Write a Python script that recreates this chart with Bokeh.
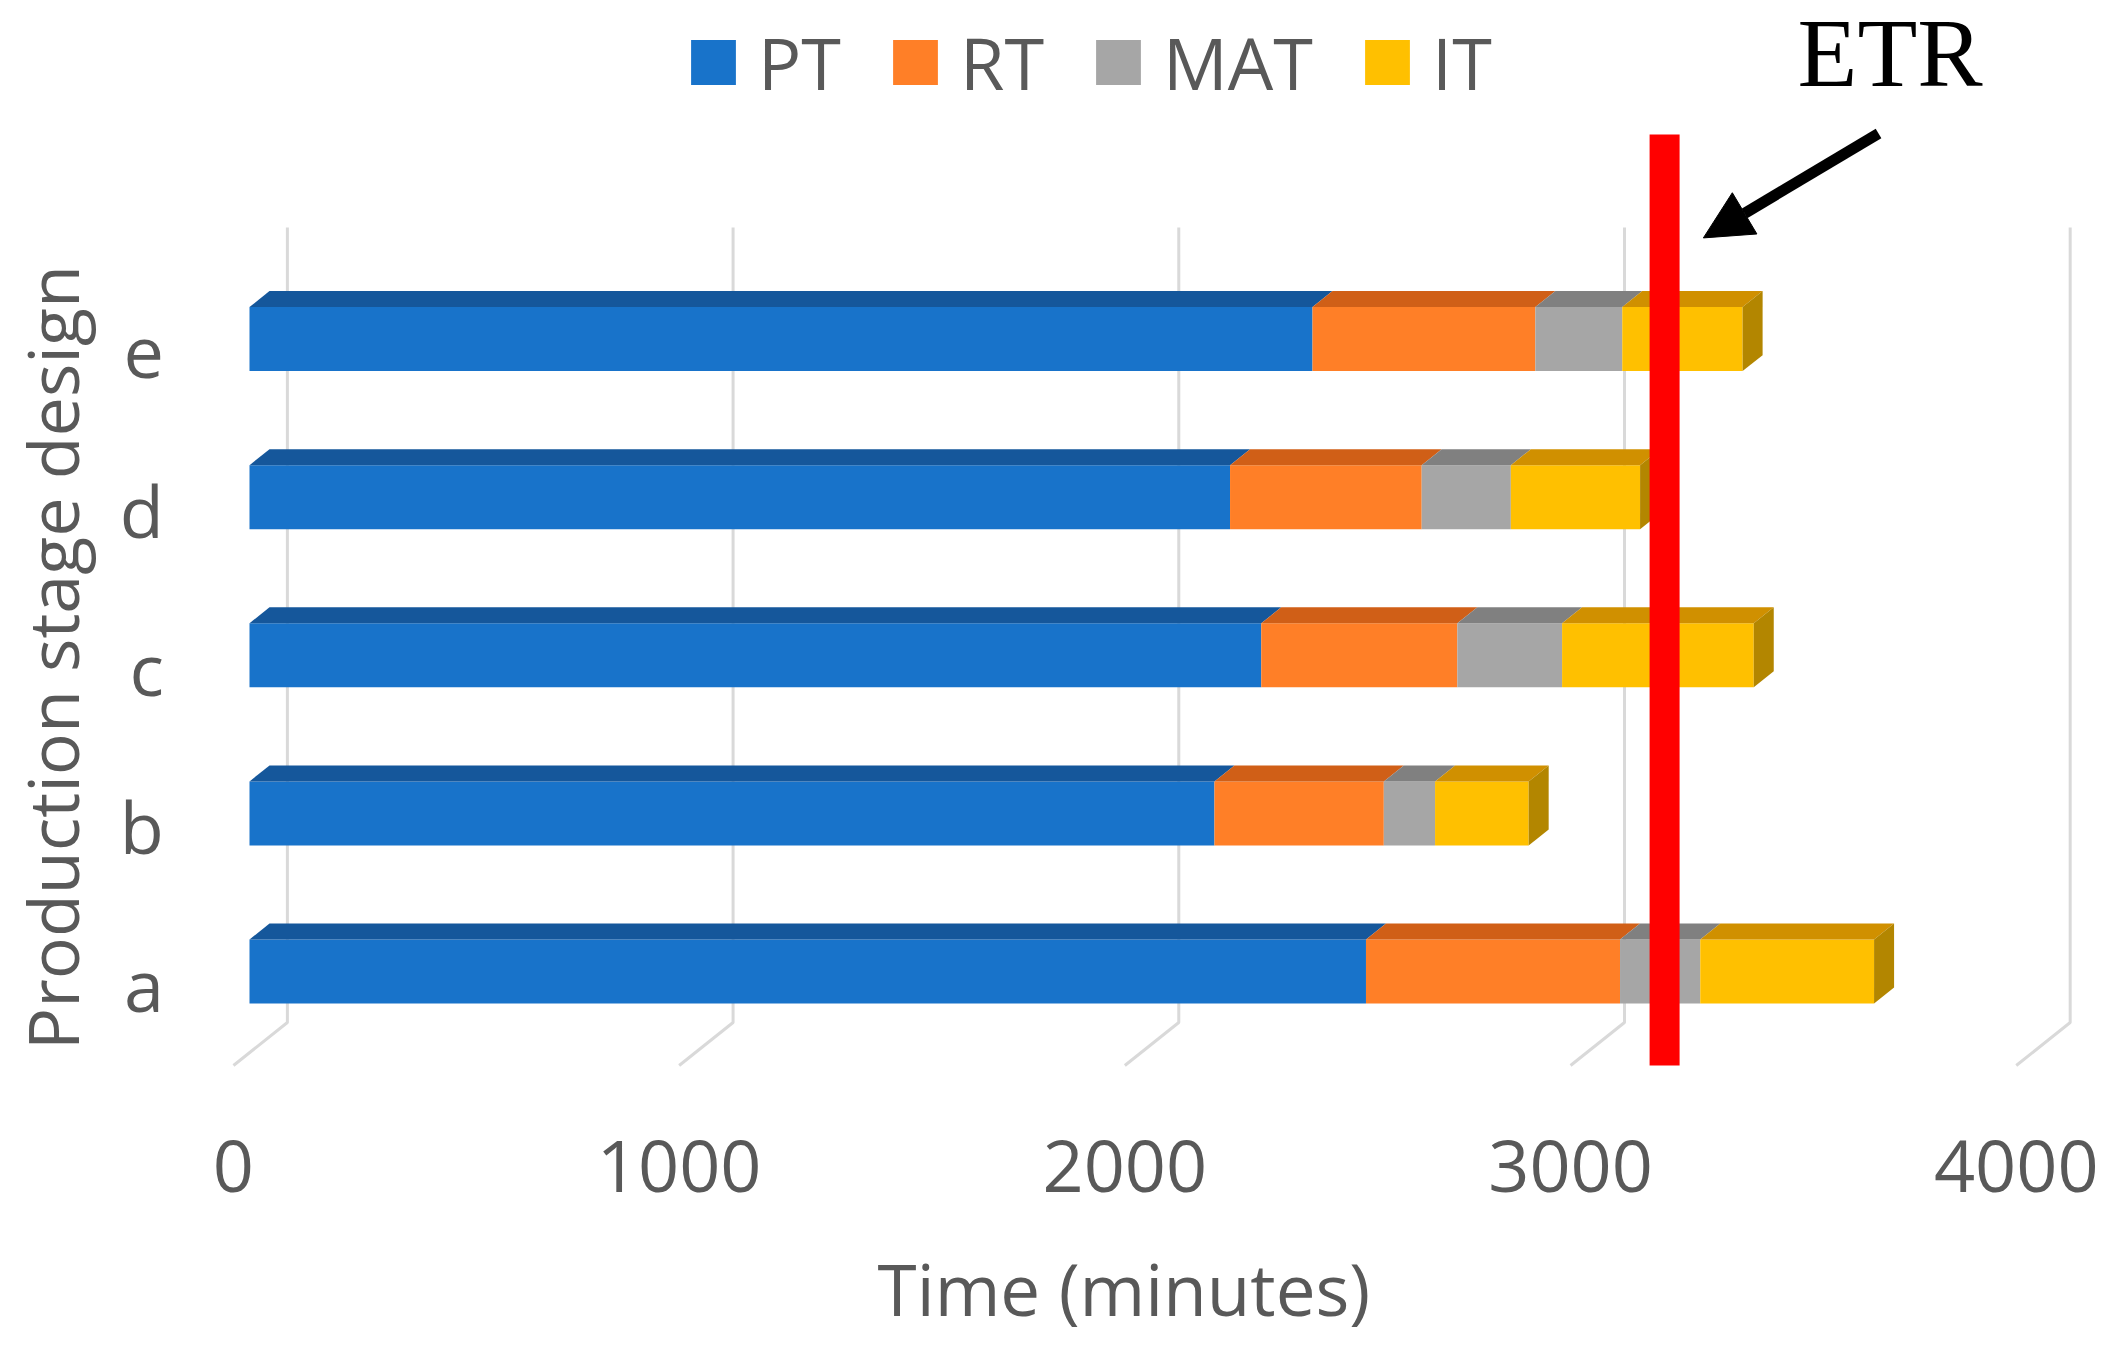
import math
import numpy as np
from bokeh.plotting import figure
from bokeh.models import Range1d, Legend, LegendItem, Label, Arrow, NormalHead
from bokeh.core.properties import value
from bokeh.embed import file_html
from bokeh.resources import INLINE

# ---------------- data ----------------
categories = ["a", "b", "c", "d", "e"]
series_names = ["PT", "RT", "MAT", "IT"]
PT = [2505, 2165, 2270, 2200, 2385]
RT = [570, 380, 440, 430, 500]
MAT = [180, 115, 235, 200, 195]
IT = [390, 210, 430, 290, 270]
x_ticks = [0, 1000, 2000, 3000, 4000]
x_tick_labels = ["0", "1000", "2000", "3000", "4000"]
ETR = 3175
x_title = "Time (minutes)"
y_title = "Production stage design"

# ---------------- style ----------------
front_colors = ["#1873CA", "#FF7F27", "#A6A6A6", "#FFC000"]
top_colors = ["#15579B", "#D05F17", "#808080", "#D09000"]
side_color = "#B38600"
text_color = "#595959"
FONT = "Open Sans"

W, H = 2117, 1340
p = figure(width=W, height=H, output_backend="svg", toolbar_location=None,
           x_range=Range1d(-558.67, 4191.16), y_range=Range1d(-2.3339, 6.1417),
           x_axis_location=None, y_axis_location=None,
           min_border_left=0, min_border_right=0, min_border_top=0,
           min_border_bottom=0)
p.outline_line_color = None
p.background_fill_color = "white"
p.grid.visible = False

# 3-D style gridlines (back wall + floor), one per tick value
wall_dx, floor_dx = 85, 36
grid_top, wall_bottom, floor_y = 4.706, -0.3226, -0.5946
p.multi_line(xs=[[v + wall_dx, v + wall_dx, v - floor_dx] for v in x_ticks],
             ys=[[grid_top, wall_bottom, floor_y] for _ in x_ticks],
             line_color="#D9D9D9", line_width=3)

# x tick labels along the front floor edge
p.text(x=[v - floor_dx for v in x_ticks], y=[-1.229] * len(x_ticks),
       text=x_tick_labels, text_font=value(FONT), text_font_size="72px",
       text_color=text_color, text_align="center", text_baseline="middle")

# category labels
ypos = np.arange(len(categories), dtype=float)
p.text(x=[-192] * len(categories), y=ypos - 0.08, text=categories,
       text_font=value(FONT), text_font_size="72px", text_color=text_color,
       text_align="right", text_baseline="middle")

# stacked bars with 3-D top / side faces
vals = np.array([PT, RT, MAT, IT], dtype=float)
rights = np.cumsum(vals, axis=0)
lefts = rights - vals
bar_h, dx, dy = 0.405, 44.9, 0.101
yt = ypos + bar_h / 2
yb = ypos - bar_h / 2

renderers = []
for k, name in enumerate(series_names):
    r = p.hbar(y=ypos, left=lefts[k], right=rights[k], height=bar_h,
               fill_color=front_colors[k], line_color=None)
    renderers.append(r)
    p.patches(xs=[[l, rr, rr + dx, l + dx] for l, rr in zip(lefts[k], rights[k])],
              ys=[[t, t, t + dy, t + dy] for t in yt],
              fill_color=top_colors[k], line_color=None)
    if k == len(series_names) - 1:
        p.patches(xs=[[rr, rr + dx, rr + dx, rr] for rr in rights[k]],
                  ys=[[b, b + dy, t + dy, t] for b, t in zip(yb, yt)],
                  fill_color=side_color, line_color=None)

# ETR line
p.segment(x0=[ETR], y0=[floor_y], x1=[ETR], y1=[5.294],
          line_color="#FF0000", line_width=30)

# arrow + ETR text
p.add_layout(Arrow(end=NormalHead(size=48, fill_color="black", line_color="black"),
                   x_start=3655, y_start=5.300, x_end=3262, y_end=4.640,
                   line_width=11, line_color="black"))
p.add_layout(Label(x=3681, y=5.81, text="ETR", text_font="Liberation Serif",
                   text_font_size="98px", text_align="center",
                   text_baseline="middle", text_color="black"))

# axis titles
p.add_layout(Label(x=1962, y=-2.002, text=x_title, text_font=FONT,
                   text_font_size="71px", text_align="center",
                   text_baseline="middle", text_color=text_color))
p.add_layout(Label(x=-444, y=1.986, text=y_title, text_font=FONT,
                   text_font_size="70px", text_align="center", angle=math.pi / 2,
                   text_baseline="middle", text_color=text_color))

# legend
legend = Legend(items=[LegendItem(label=n, renderers=[r])
                       for n, r in zip(series_names, renderers)],
                orientation="horizontal", location=(685, 1229),
                glyph_width=56, glyph_height=56, label_standoff=17, spacing=46,
                padding=0, margin=0, border_line_color=None,
                background_fill_alpha=0, label_text_font=FONT,
                label_text_font_size="72px", label_text_color=text_color)
p.add_layout(legend)

open("out.html", "w").write(file_html(p, INLINE))
